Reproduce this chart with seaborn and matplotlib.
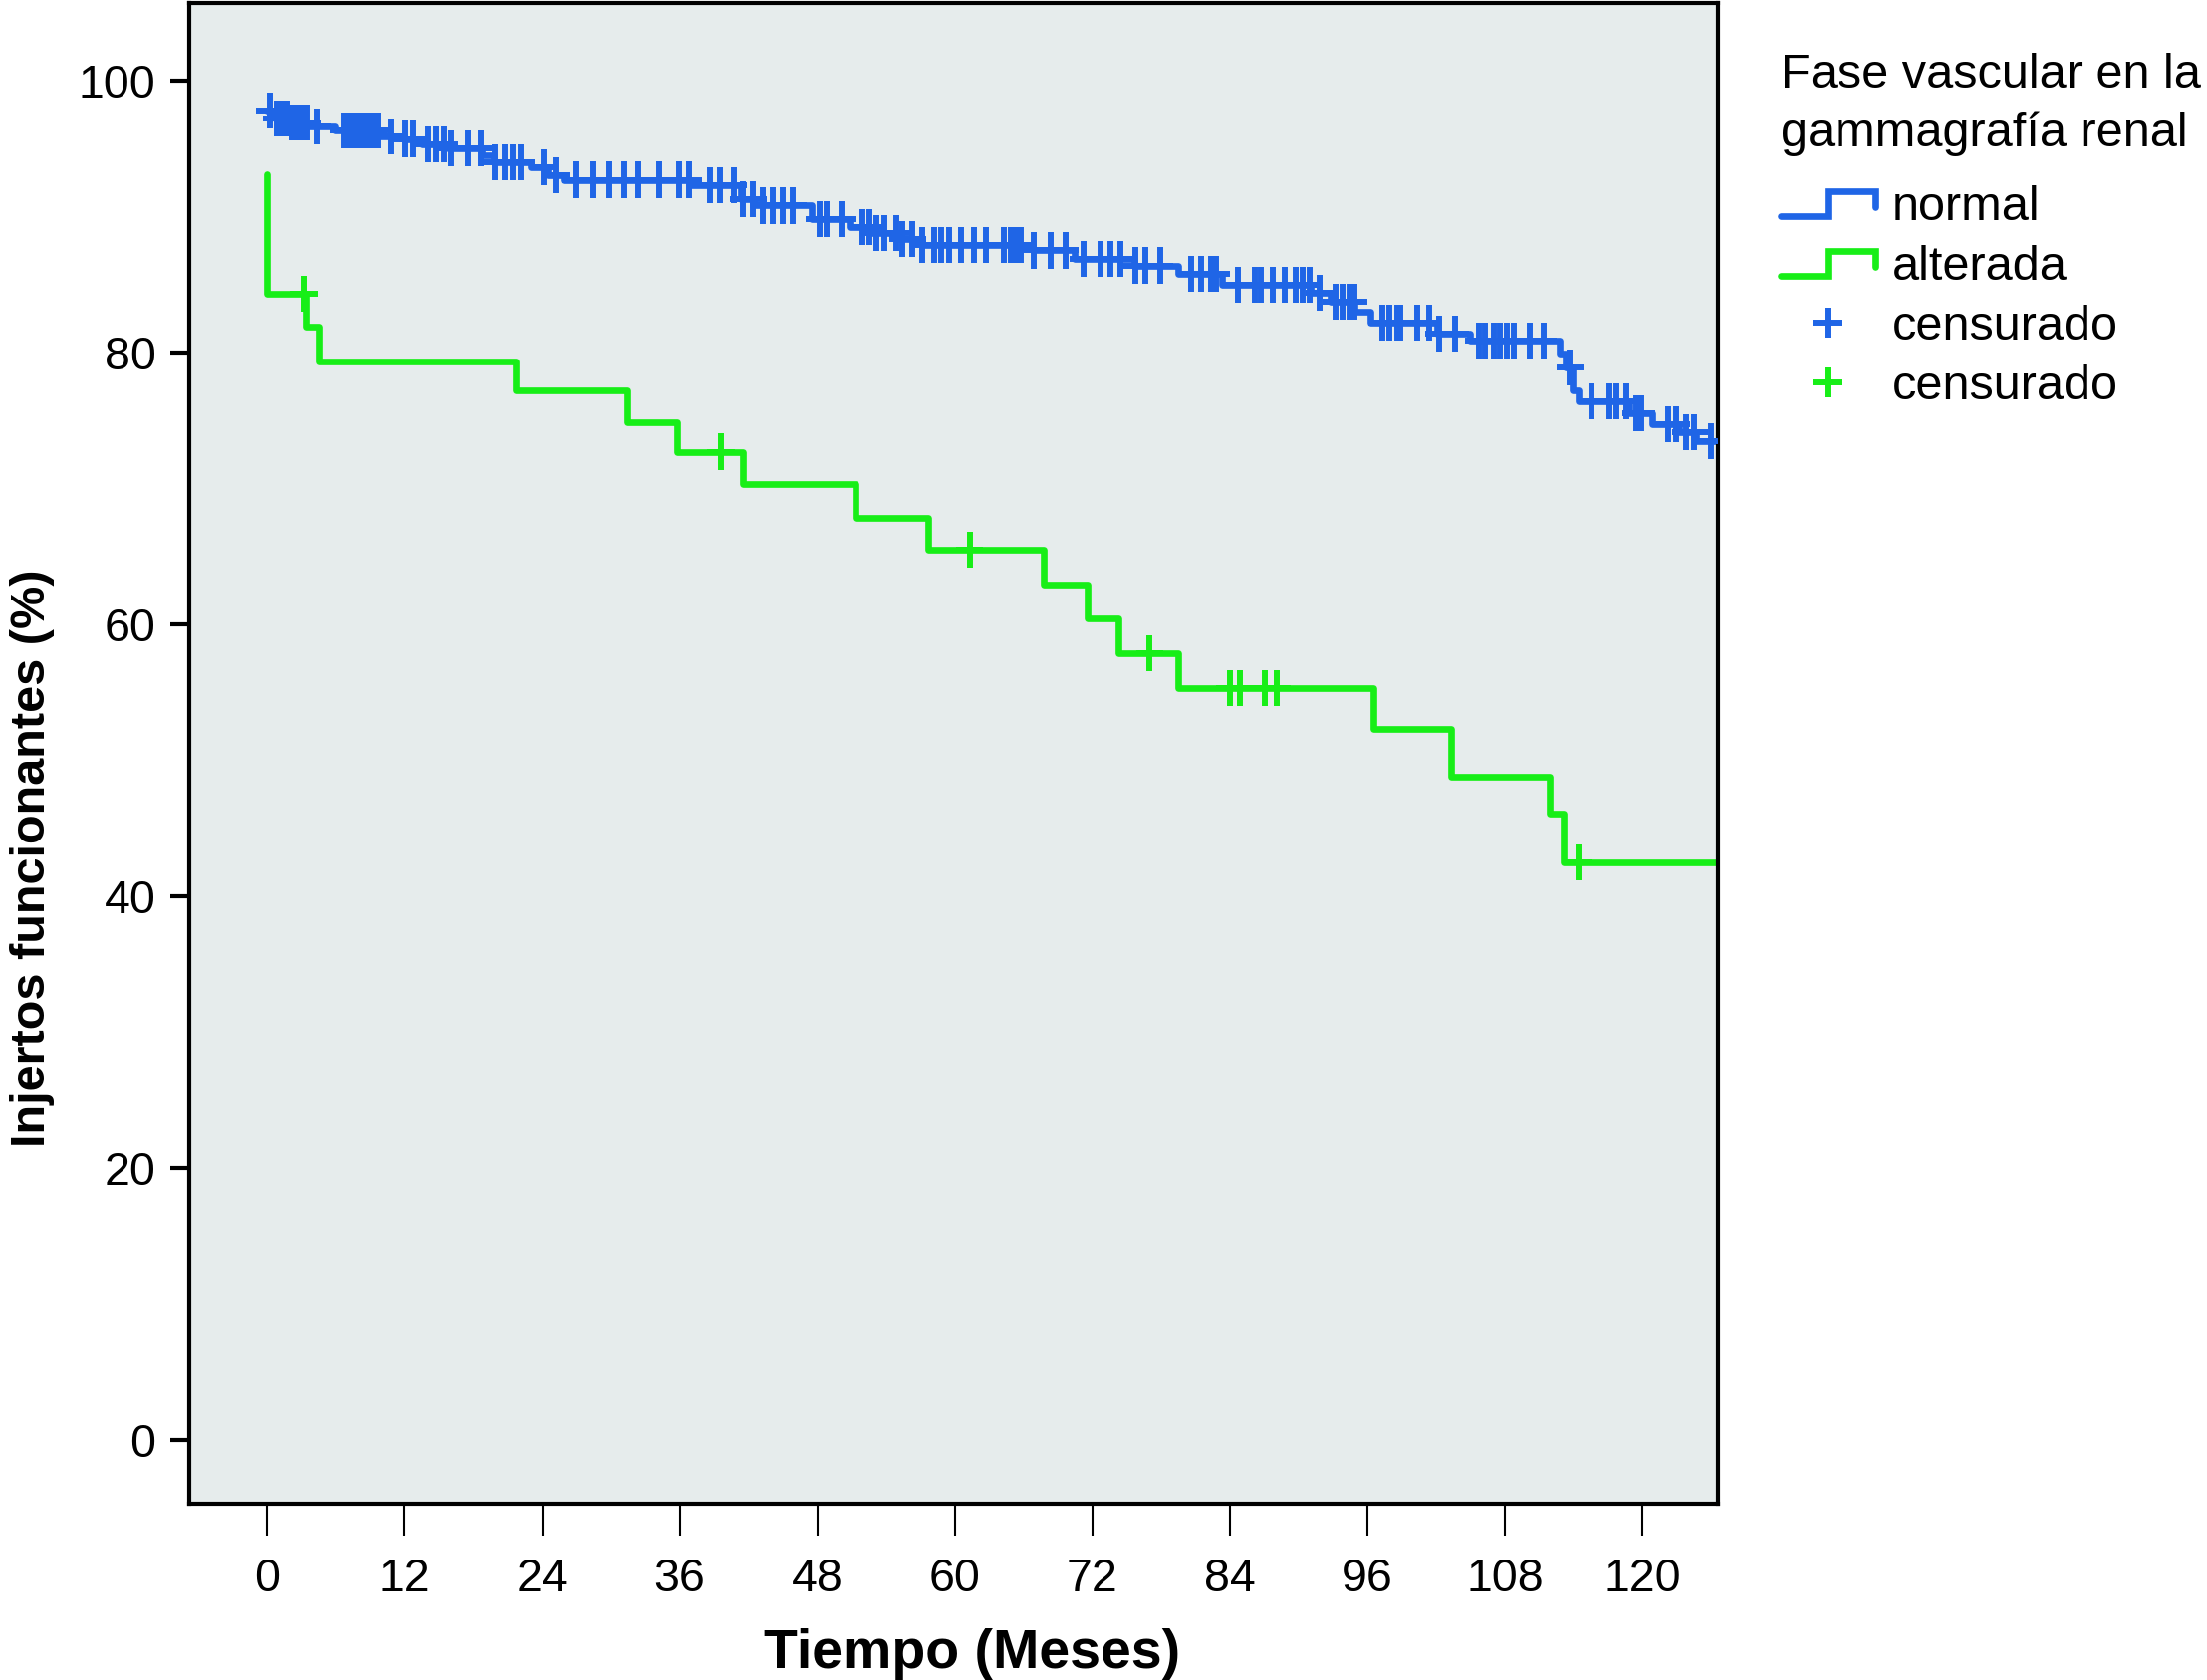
import numpy as np
import pandas as pd
import matplotlib.pyplot as plt
import seaborn as sns
from matplotlib.lines import Line2D
from matplotlib.path import Path
from matplotlib.legend_handler import HandlerBase

# ── 1. Datos (meses, % injertos funcionantes) ──
normal_t = [0, 0.7, 1.8, 3.6, 5.9, 9.7, 12.0, 13.5, 15.8, 18.7, 19.8, 23.0, 24.5,
            25.9, 36.9, 41.3, 42.5, 47.5, 50.8, 52.6, 55.2, 57.2, 66.8, 70.5, 75.7,
            79.5, 83.3, 91.1, 92.8, 94.9, 96.3, 102.1, 105.0, 112.8, 113.3, 113.9,
            114.4, 118.9, 120.9, 123.2, 124.7]
normal_s = [97.8, 97.2, 96.9, 96.65, 96.3, 95.9, 95.7, 95.3, 95.0, 94.5, 94.0, 93.6, 93.0,
            92.7, 92.3, 91.3, 90.8, 89.8, 89.2, 88.8, 88.35, 87.9, 87.5, 86.9, 86.4,
            85.8, 85.0, 84.4, 83.7, 83.0, 82.2, 81.4, 80.9, 79.9, 78.9, 77.2,
            76.4, 75.5, 74.7, 74.1, 73.5]
normal_cens = [0.19, 0.85, 1.29, 1.72, 2.16, 2.59, 3.03, 3.46, 4.33, 6.65, 7.08, 7.52,
               7.95, 8.39, 8.82, 9.26, 9.69, 10.85, 12.01, 12.73, 14.03, 14.76, 15.48,
               16.06, 17.51, 18.67, 19.83, 20.70, 21.42, 22.15, 24.17, 25.19, 26.93,
               28.37, 29.82, 31.13, 32.43, 34.17, 35.91, 36.78, 38.66, 39.53, 40.69,
               41.55, 42.42, 43.29, 44.16, 45.03, 45.90, 48.22, 48.80, 50.10, 51.98,
               52.56, 53.14, 53.86, 54.88, 55.46, 56.33, 57.20, 58.21, 58.79, 59.51,
               60.53, 61.69, 62.70, 64.29, 64.87, 65.31, 65.74, 66.90, 68.35, 69.65,
               71.25, 72.70, 73.56, 74.43, 75.74, 76.61, 77.91, 80.66, 81.53, 82.40,
               82.83, 84.71, 86.16, 86.75, 87.76, 88.77, 89.79, 90.36, 90.94, 91.81,
               93.26, 93.84, 94.42, 94.86, 97.32, 97.90, 98.62, 98.91, 100.36, 101.37,
               102.24, 103.69, 105.72, 106.30, 107.02, 107.60, 108.18, 108.76, 110.21,
               111.37, 113.69, 115.57, 117.16, 117.74, 118.61, 119.48, 119.91, 122.23,
               122.95, 123.82, 124.55, 125.99]

alterada_t = [0, 0, 3.35, 4.53, 21.7, 31.4, 35.8, 41.5, 51.3, 57.7, 67.8, 71.6, 74.3,
              79.5, 96.5, 103.3, 111.9, 113.1]
alterada_s = [93.1, 84.3, 81.9, 79.3, 77.2, 74.9, 72.7, 70.3, 67.8, 65.5, 62.9, 60.4,
              57.9, 55.3, 52.3, 48.8, 46.1, 42.5]
alterada_cens = [3.17, 39.6, 61.3, 77.0, 84.0, 84.9, 87.1, 88.1, 114.4]

END_T = 128  # la última línea se sale del eje

x_ticks = list(range(0, 121, 12))
y_ticks = [0, 20, 40, 60, 80, 100]

PALETTE = {"normal": "#1F65E6", "alterada": "#17EE17"}
BG = "#E6ECEC"
LW = 4.8


def step_frame(t, s, grupo):
    return pd.DataFrame({"tiempo": t + [END_T], "surv": s + [s[-1]], "grupo": grupo})


def cens_frame(t, s, cens, grupo):
    idx = np.searchsorted(t, cens, side="right") - 1
    return pd.DataFrame({"tiempo": cens, "surv": np.array(s)[idx], "grupo": grupo})


curves = pd.concat([step_frame(normal_t, normal_s, "normal"),
                    step_frame(alterada_t, alterada_s, "alterada")], ignore_index=True)
cens = pd.concat([cens_frame(normal_t, normal_s, normal_cens, "normal"),
                  cens_frame(alterada_t, alterada_s, alterada_cens, "alterada")],
                 ignore_index=True)

# ── 2. Estilo ──
sns.set_style("ticks")
plt.rcParams["font.family"] = ["Liberation Sans", "DejaVu Sans"]
for k in ["text.color", "axes.labelcolor", "xtick.color", "ytick.color"]:
    plt.rcParams[k] = "black"

fig = plt.figure(figsize=(22.16, 16.87), dpi=100)
ax = fig.add_axes([0.0857, 0.1049, 0.6927, 0.8933])
ax.set_facecolor(BG)

sns.lineplot(data=curves, x="tiempo", y="surv", hue="grupo", palette=PALETTE,
             estimator=None, sort=False, drawstyle="steps-post", linewidth=LW,
             legend=False, ax=ax)

# marca de censura: cruz algo más alta que ancha
cross = Path([(-0.38, 0), (0.38, 0), (0, -0.5), (0, 0.5)],
             [Path.MOVETO, Path.LINETO, Path.MOVETO, Path.LINETO])
for grupo, df in cens.groupby("grupo"):
    sns.scatterplot(data=df, x="tiempo", y="surv", marker=cross, s=26 ** 2,
                    color=PALETTE[grupo], edgecolor=PALETTE[grupo], facecolor="none",
                    linewidth=4.3, legend=False, ax=ax, zorder=3)

ax.set_xlim(-6.82, 126.6)
ax.set_ylim(-4.69, 105.7)
ax.set_xticks(x_ticks)
ax.set_yticks(y_ticks)
ax.tick_params(axis="y", length=14, width=3, pad=10, labelsize=33.5, color="black")
ax.tick_params(axis="x", length=23, width=1.5, pad=16, labelsize=33.5, color="black")
for side in ["left", "bottom", "top", "right"]:
    ax.spines[side].set_color("black")
    ax.spines[side].set_linewidth(3)

ax.set_xlabel("Tiempo (Meses)", fontsize=40, fontweight="bold")
ax.set_ylabel("Injertos funcionantes (%)", fontsize=35, fontweight="bold")
ax.xaxis.set_label_coords(0.512, -0.083)
ax.yaxis.set_label_coords(-0.088, 0.43)


# ── 3. Leyenda con icono escalonado ──
class HandlerStep(HandlerBase):
    def create_artists(self, legend, orig_handle, xdescent, ydescent, width, height,
                       fontsize, trans):
        x = np.array([0, 0.5, 0.5, 1, 1]) * width - xdescent
        y = np.array([0.12, 0.12, 0.85, 0.85, 0.38]) * height - ydescent
        line = Line2D(x, y, color=orig_handle.get_color(),
                      linewidth=orig_handle.get_linewidth(), solid_joinstyle="miter")
        line.set_transform(trans)
        return [line]


h_norm = Line2D([], [], color=PALETTE["normal"], linewidth=LW)
h_alt = Line2D([], [], color=PALETTE["alterada"], linewidth=LW)
h_cn = Line2D([], [], color=PALETTE["normal"], marker="+", markersize=22,
              markeredgewidth=4.3, linestyle="none")
h_ca = Line2D([], [], color=PALETTE["alterada"], marker="+", markersize=22,
              markeredgewidth=4.3, linestyle="none")

fig.text(0.8069, 0.9686, "Fase vascular en la\ngammagrafía renal", fontsize=35,
         ha="left", va="top", linespacing=1.39)
ax.legend(handles=[h_norm, h_alt, h_cn, h_ca],
          labels=["normal", "alterada", "censurado", "censurado"],
          handler_map={h_norm: HandlerStep(), h_alt: HandlerStep()}, fontsize=35,
          loc="upper left", bbox_to_anchor=(0.8069, 0.8897), bbox_transform=fig.transFigure,
          frameon=False, borderpad=0, borderaxespad=0, handlelength=1.95,
          handletextpad=0.35, labelspacing=0.31)

fig.savefig("out.png", dpi=100)
